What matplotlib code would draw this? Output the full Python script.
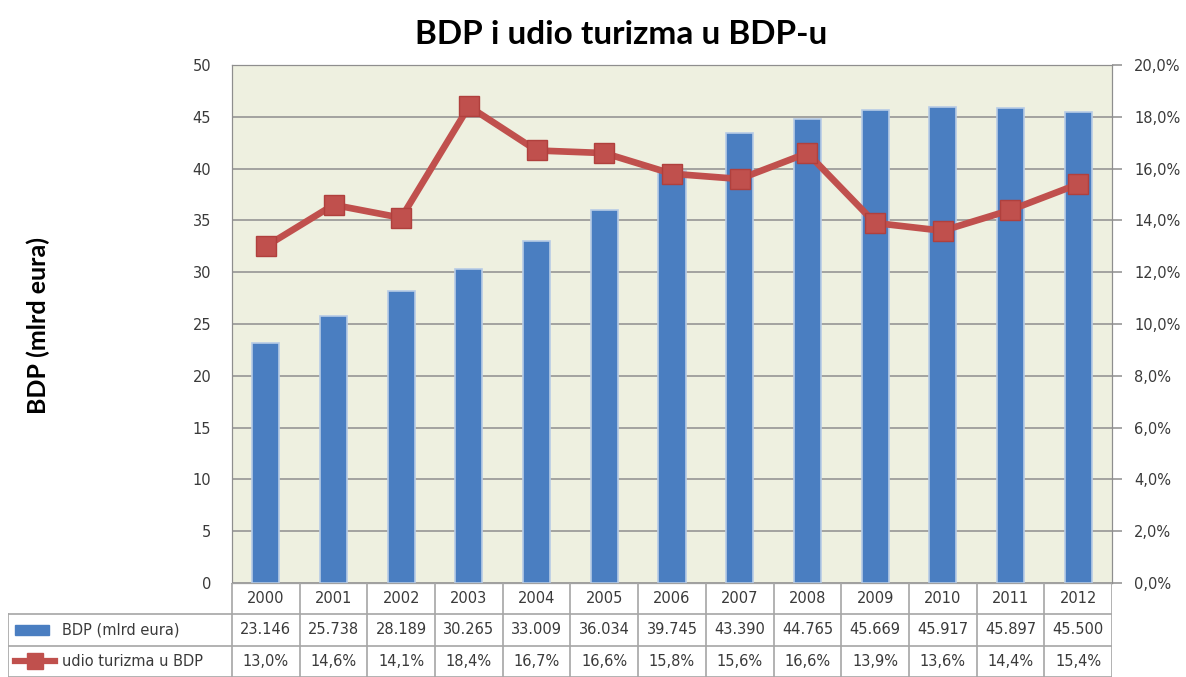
import numpy as np
import matplotlib
matplotlib.use("Agg")
import matplotlib.pyplot as plt
from matplotlib.ticker import FuncFormatter

years = ["2000", "2001", "2002", "2003", "2004", "2005", "2006",
         "2007", "2008", "2009", "2010", "2011", "2012"]
bdp = [23.146, 25.738, 28.189, 30.265, 33.009, 36.034, 39.745,
       43.390, 44.765, 45.669, 45.917, 45.897, 45.500]
udio = [13.0, 14.6, 14.1, 18.4, 16.7, 16.6, 15.8, 15.6, 16.6, 13.9, 13.6, 14.4, 15.4]

bar_label = "BDP (mlrd eura)"
line_label = "udio turizma u BDP"
title = "BDP i udio turizma u BDP-u"

W, H = 1186, 677
blue = "#4A7EC1"
red = "#C0504D"
grid_c = "#8E8E8E"
tab_c = "#A6A6A6"
txt_c = "#3A3A3A"

fig = plt.figure(figsize=(W / 100, H / 100), dpi=100)

# plot area in pixels
px_l, px_r, px_t, px_b = 232, 1112, 65, 583
ax = fig.add_axes([px_l / W, 1 - px_b / H, (px_r - px_l) / W, (px_b - px_t) / H])
ax.set_facecolor("#EEF0E0")

x = np.arange(len(years))
ax.bar(x, bdp, width=0.4, color=blue, edgecolor="#B7CBE6", linewidth=1.2, zorder=3)
ax.set_xlim(-0.5, len(years) - 0.5)
ax.set_ylim(0, 50)
ax.set_yticks(range(0, 51, 5))
ax.set_xticks([])
ax.yaxis.grid(True, color=grid_c, linewidth=1.1, zorder=1)
ax.tick_params(axis="y", length=0, pad=15, labelsize=10.5, labelcolor=txt_c)
for s in ax.spines.values():
    s.set_color(grid_c)

ax2 = ax.twinx()
ax2.plot(x, np.array(udio) / 100, color=red, linewidth=4.8, marker="s",
         markersize=14, markerfacecolor=red, markeredgecolor="#B0403D", zorder=5)
ax2.set_ylim(0, 0.2)
ax2.set_yticks(np.arange(0, 0.2001, 0.02))
ax2.yaxis.set_major_formatter(FuncFormatter(lambda v, p: f"{v * 100:.1f}%".replace(".", ",")))
ax2.tick_params(axis="y", length=7, width=1.1, color=grid_c, pad=9,
                labelsize=10.5, labelcolor=txt_c)
for s in ax2.spines.values():
    s.set_color(grid_c)

# data table below the plot
tab_left = 8
col_w = (px_r - px_l) / len(years)
lab_w = (px_l - tab_left) / col_w
tab = fig.add_axes([tab_left / W, 0, (px_r - tab_left) / W, (H - px_b) / H])
tab.set_xlim(-0.5 - lab_w, len(years) - 0.5)
tab.set_ylim(3, 0)
tab.axis("off")

x0 = -0.5 - lab_w
xe = len(years) - 0.5
tab.plot([-0.5, xe], [0, 0], color=tab_c, lw=1.2)
for yy in [1, 2, 2.99]:
    tab.plot([x0, xe], [yy, yy], color=tab_c, lw=1.2)
for k in range(len(years) + 1):
    tab.plot([k - 0.5, k - 0.5], [0, 3], color=tab_c, lw=1.2)
tab.plot([x0, x0], [1, 3], color=tab_c, lw=1.2)

for i, yr in enumerate(years):
    tab.text(i, 0.5, yr, ha="center", va="center", fontsize=10.5, color=txt_c)
    tab.text(i, 1.5, f"{bdp[i]:.3f}", ha="center", va="center", fontsize=10.5, color=txt_c)
    tab.text(i, 2.5, f"{udio[i]:.1f}%".replace(".", ","), ha="center", va="center",
             fontsize=10.5, color=txt_c)

# legend keys in the label column
tab.add_patch(plt.Rectangle((x0 + 0.1, 1.35), 0.5, 0.3, color=blue))
tab.text(x0 + 0.8, 1.5, bar_label, ha="left", va="center", fontsize=10.5, color=txt_c)
tab.plot([x0 + 0.1, x0 + 0.7], [2.5, 2.5], color=red, lw=4.5)
tab.plot([x0 + 0.4], [2.5], marker="s", markersize=11, color=red)
tab.text(x0 + 0.8, 2.5, line_label, ha="left", va="center", fontsize=10.5, color=txt_c)

fig.text(621 / W, 1 - 34 / H, title, ha="center", va="center",
         fontsize=24, fontweight="bold", family="Lato")
fig.text(38 / W, 1 - 326 / H, bar_label, ha="center", va="center", rotation=90,
         fontsize=18, fontweight="bold", family="Lato")

fig.savefig("out.png", dpi=100)
